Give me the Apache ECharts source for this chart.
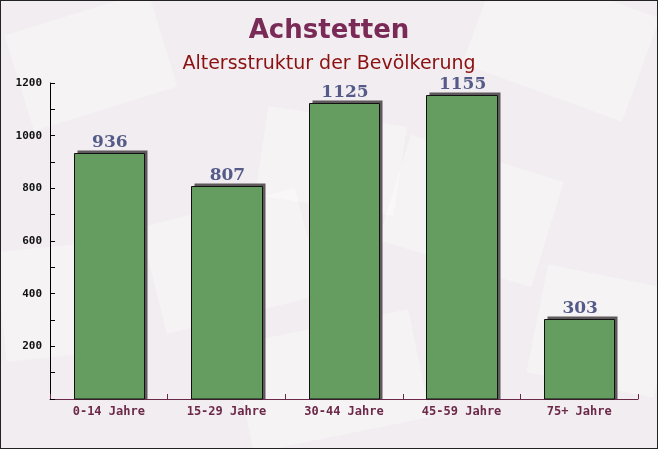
<!DOCTYPE html>
<html><head><meta charset="utf-8">
<script src="https://cdn.jsdelivr.net/npm/echarts@6/dist/echarts.min.js"></script>
<style>html,body{margin:0;padding:0;background:#f3eff1}#c{width:656px;height:447px;border:1px solid #222;}</style>
</head><body><div id="c"></div>
<script>
const categories = ['0-14 Jahre','15-29 Jahre','30-44 Jahre','45-59 Jahre','75+ Jahre'];
const values = [936, 807, 1125, 1155, 303];
const yTicks = [200, 400, 600, 800, 1000, 1200];

const chart = echarts.init(document.getElementById('c'), null, {renderer:'canvas'});

function renderBar(params, api) {
  const idx = api.value(0);
  const val = api.value(1);
  const top = api.coord([idx, val]);
  const base = api.coord([idx, 0]);
  const band = api.size([1, 0])[0];
  const w = band * 0.6;
  const x0 = Math.round(top[0] - w / 2) + 0.5;
  const x1 = Math.round(top[0] + w / 2) + 0.5;
  const y0 = Math.round(top[1]) + 0.5;
  const yb = base[1];
  const d = 3;
  return {
    type: 'group',
    children: [
      {type:'rect', shape:{x:x0 + d, y:y0 - d, width:x1 - x0, height:yb - y0 + d}, style:{fill:'#5e595b'}},
      {type:'rect', shape:{x:x0, y:y0, width:x1 - x0, height:yb - y0}, style:{fill:'#659c60', stroke:'#111', lineWidth:1}},
      {type:'text', x:top[0] + 1, y:y0 - d + 1, style:{text:String(val), fill:'#555b88', font:'bold 17px "DejaVu Serif"', textAlign:'center', textVerticalAlign:'bottom'}}
    ]
  };
}

function deco(x, y, w, h, rot) {
  return {type:'rect', x:x, y:y, rotation:rot, shape:{x:-w/2, y:-h/2, width:w, height:h}, style:{fill:'rgba(255,255,255,0.35)'}, silent:true, z:-10};
}

chart.setOption({
  backgroundColor: '#f1edf0',
  animation: false,
  graphic: [
    deco(90, 60, 150, 100, 0.3), deco(560, 40, 170, 110, -0.35), deco(230, 260, 160, 110, 0.25),
    deco(470, 210, 160, 110, -0.3), deco(330, 380, 180, 110, 0.2), deco(60, 300, 120, 110, 0.1),
    deco(600, 330, 130, 110, -0.2), deco(330, 160, 140, 90, -0.15)
  ],
  title: [
    {text:'Achstetten', left:'center', top:12, textStyle:{fontFamily:'DejaVu Sans', fontWeight:'bold', fontSize:26, color:'#7a2a57'}},
    {text:'Altersstruktur der Bevölkerung', left:'center', top:49, textStyle:{fontFamily:'DejaVu Sans', fontWeight:'normal', fontSize:19, color:'#8b1010'}}
  ],
  grid: {left:49, right:19, top:82, bottom:49},
  xAxis: {
    type:'category', data: categories,
    axisLine:{lineStyle:{color:'#6b2848', width:1}},
    axisTick:{show:true, inside:true, length:5, alignWithLabel:false, lineStyle:{color:'#6b2848'}},
    axisLabel:{fontFamily:'DejaVu Sans Mono', fontSize:12, fontWeight:'bold', color:'#6b2848', margin:7}
  },
  yAxis: {
    type:'value', min:0, max:1200, interval:100,
    axisLine:{show:true, lineStyle:{color:'#000', width:1}},
    axisTick:{show:true, inside:true, length:5, lineStyle:{color:'#000'}},
    splitLine:{show:false},
    axisLabel:{fontFamily:'DejaVu Sans Mono', fontSize:11, fontWeight:'bold', color:'#111', margin:8,
      formatter: v => yTicks.includes(v) ? String(v) : ''}
  },
  series: [{
    type:'custom', renderItem: renderBar,
    encode:{x:0, y:1},
    data: values.map((v, i) => [i, v])
  }]
});
</script></body></html>
